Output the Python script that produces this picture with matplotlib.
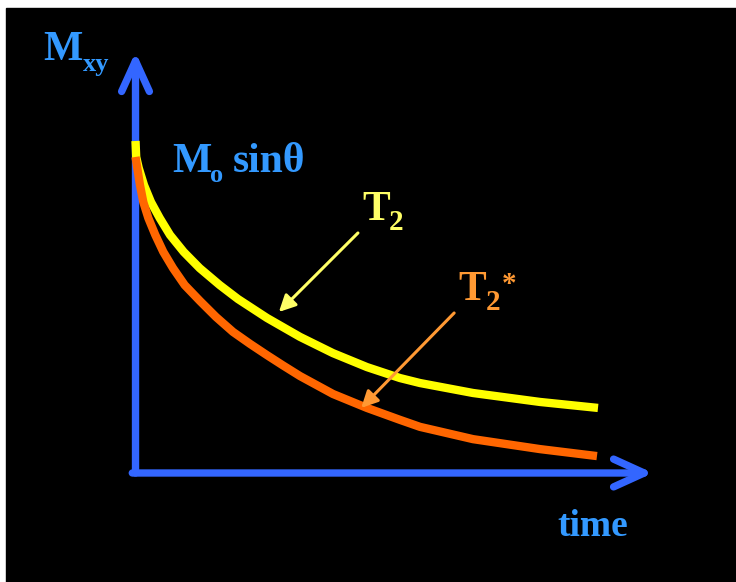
import matplotlib
matplotlib.use('Agg')
import matplotlib.pyplot as plt
from matplotlib.patches import Rectangle
from matplotlib.transforms import Affine2D

# Curve samples (time in arbitrary units, Mxy as fraction of Mo sin(theta))
t2_time = [0, 0.015, 0.069, 0.184, 0.335, 0.523, 0.746, 1.042, 1.388, 1.821, 2.216,
           2.843, 3.557, 4.270, 5.005, 5.719, 6.151, 7.297, 8.746, 10.0]
t2_mxy = [1.0, 0.952, 0.919, 0.867, 0.816, 0.768, 0.717, 0.666, 0.617, 0.566, 0.524,
          0.467, 0.410, 0.361, 0.319, 0.286, 0.271, 0.241, 0.214, 0.196]

t2s_time = [0, 0.097, 0.169, 0.277, 0.428, 0.601, 0.811, 1.064, 1.395, 1.741, 2.108,
            2.476, 2.843, 3.189, 3.557, 4.270, 5.005, 5.719, 6.151, 7.297, 8.746, 9.978]
t2s_mxy = [0.952, 0.867, 0.816, 0.768, 0.717, 0.666, 0.617, 0.566, 0.518, 0.470, 0.425,
           0.389, 0.355, 0.324, 0.292, 0.238, 0.196, 0.160, 0.139, 0.102, 0.072, 0.051]

# axis extent and annotation arrows (tail, tip) in data units
x_axis_end = 11.19
y_axis_end = 1.268
t2_arrow = [(4.81, 0.723), (3.10, 0.485)]
t2s_arrow = [(6.89, 0.482), (4.88, 0.196)]

BLUE_AXIS = '#3366ff'
BLUE_TEXT = '#3399ff'
YELLOW = '#ffff00'
ORANGE = '#ff6600'
T2_COL = '#ffff66'
T2S_COL = '#ff9933'
FONT = 'Liberation Serif'

W, H = 736, 582
fig = plt.figure(figsize=(W / 100, H / 100), dpi=100, facecolor='white')
# black slide background with a thin white margin at top/left
fig.patches.append(Rectangle((6 / W, 0), 1 - 6 / W, (H - 8) / H,
                             transform=fig.transFigure, color='black', zorder=-5))

ax = fig.add_axes([0, 0, 1, 1])
ax.set_xlim(-2.930, 12.984)
ax.set_ylim(-0.3283, 1.4247)
ax.axis('off')

# axes drawn as open-headed arrows
axis_props = dict(arrowstyle='->,head_length=2.2,head_width=1.0', lw=5.3,
                  color=BLUE_AXIS, shrinkA=0, shrinkB=0, mutation_scale=10,
                  capstyle='round', joinstyle='round')
ax.annotate('', xy=(0, y_axis_end), xytext=(0, 0), arrowprops=axis_props, zorder=2)
ax.annotate('', xy=(x_axis_end, 0), xytext=(-0.07, 0), arrowprops=axis_props, zorder=2)

# decay curves
ax.plot(t2_time, t2_mxy, color=YELLOW, lw=6, solid_capstyle='butt',
        solid_joinstyle='round', zorder=4)
ax.plot(t2s_time, t2s_mxy, color=ORANGE, lw=6, solid_capstyle='butt',
        solid_joinstyle='round', zorder=4)

# pointer arrows
ax.annotate('', xy=t2_arrow[1], xytext=t2_arrow[0],
            arrowprops=dict(arrowstyle='-|>,head_length=1.0,head_width=0.5', lw=2.2,
                            color=T2_COL, shrinkA=0, shrinkB=0, mutation_scale=10), zorder=5)
ax.annotate('', xy=t2s_arrow[1], xytext=t2s_arrow[0],
            arrowprops=dict(arrowstyle='-|>,head_length=1.0,head_width=0.5', lw=2.2,
                            color=T2S_COL, shrinkA=0, shrinkB=0, mutation_scale=10), zorder=5)

# labels placed in pixel coordinates (origin top-left)
px = Affine2D().scale(1, -1).translate(0, H)


def label(x, y, s, size, color):
    fig.text(x, y, s, transform=px, fontsize=size, color=color, family=FONT,
             fontweight='bold', ha='left', va='baseline')


label(43, 60, 'M', 30, BLUE_TEXT)
label(83, 71, 'xy', 19, BLUE_TEXT)

label(172, 172, 'M', 30, BLUE_TEXT)
label(210, 182, 'o', 19, BLUE_TEXT)
label(233, 172, 'sin\u03b8', 30, BLUE_TEXT)

label(362, 220, 'T', 30, T2_COL)
label(389, 230, '2', 21, T2_COL)

label(458, 300, 'T', 30, T2S_COL)
label(486, 310, '2', 21, T2S_COL)
label(502, 292, '*', 21, T2S_COL)

label(557, 536, 'time', 27, BLUE_TEXT)

fig.savefig('out.png', dpi=100, facecolor='white')
